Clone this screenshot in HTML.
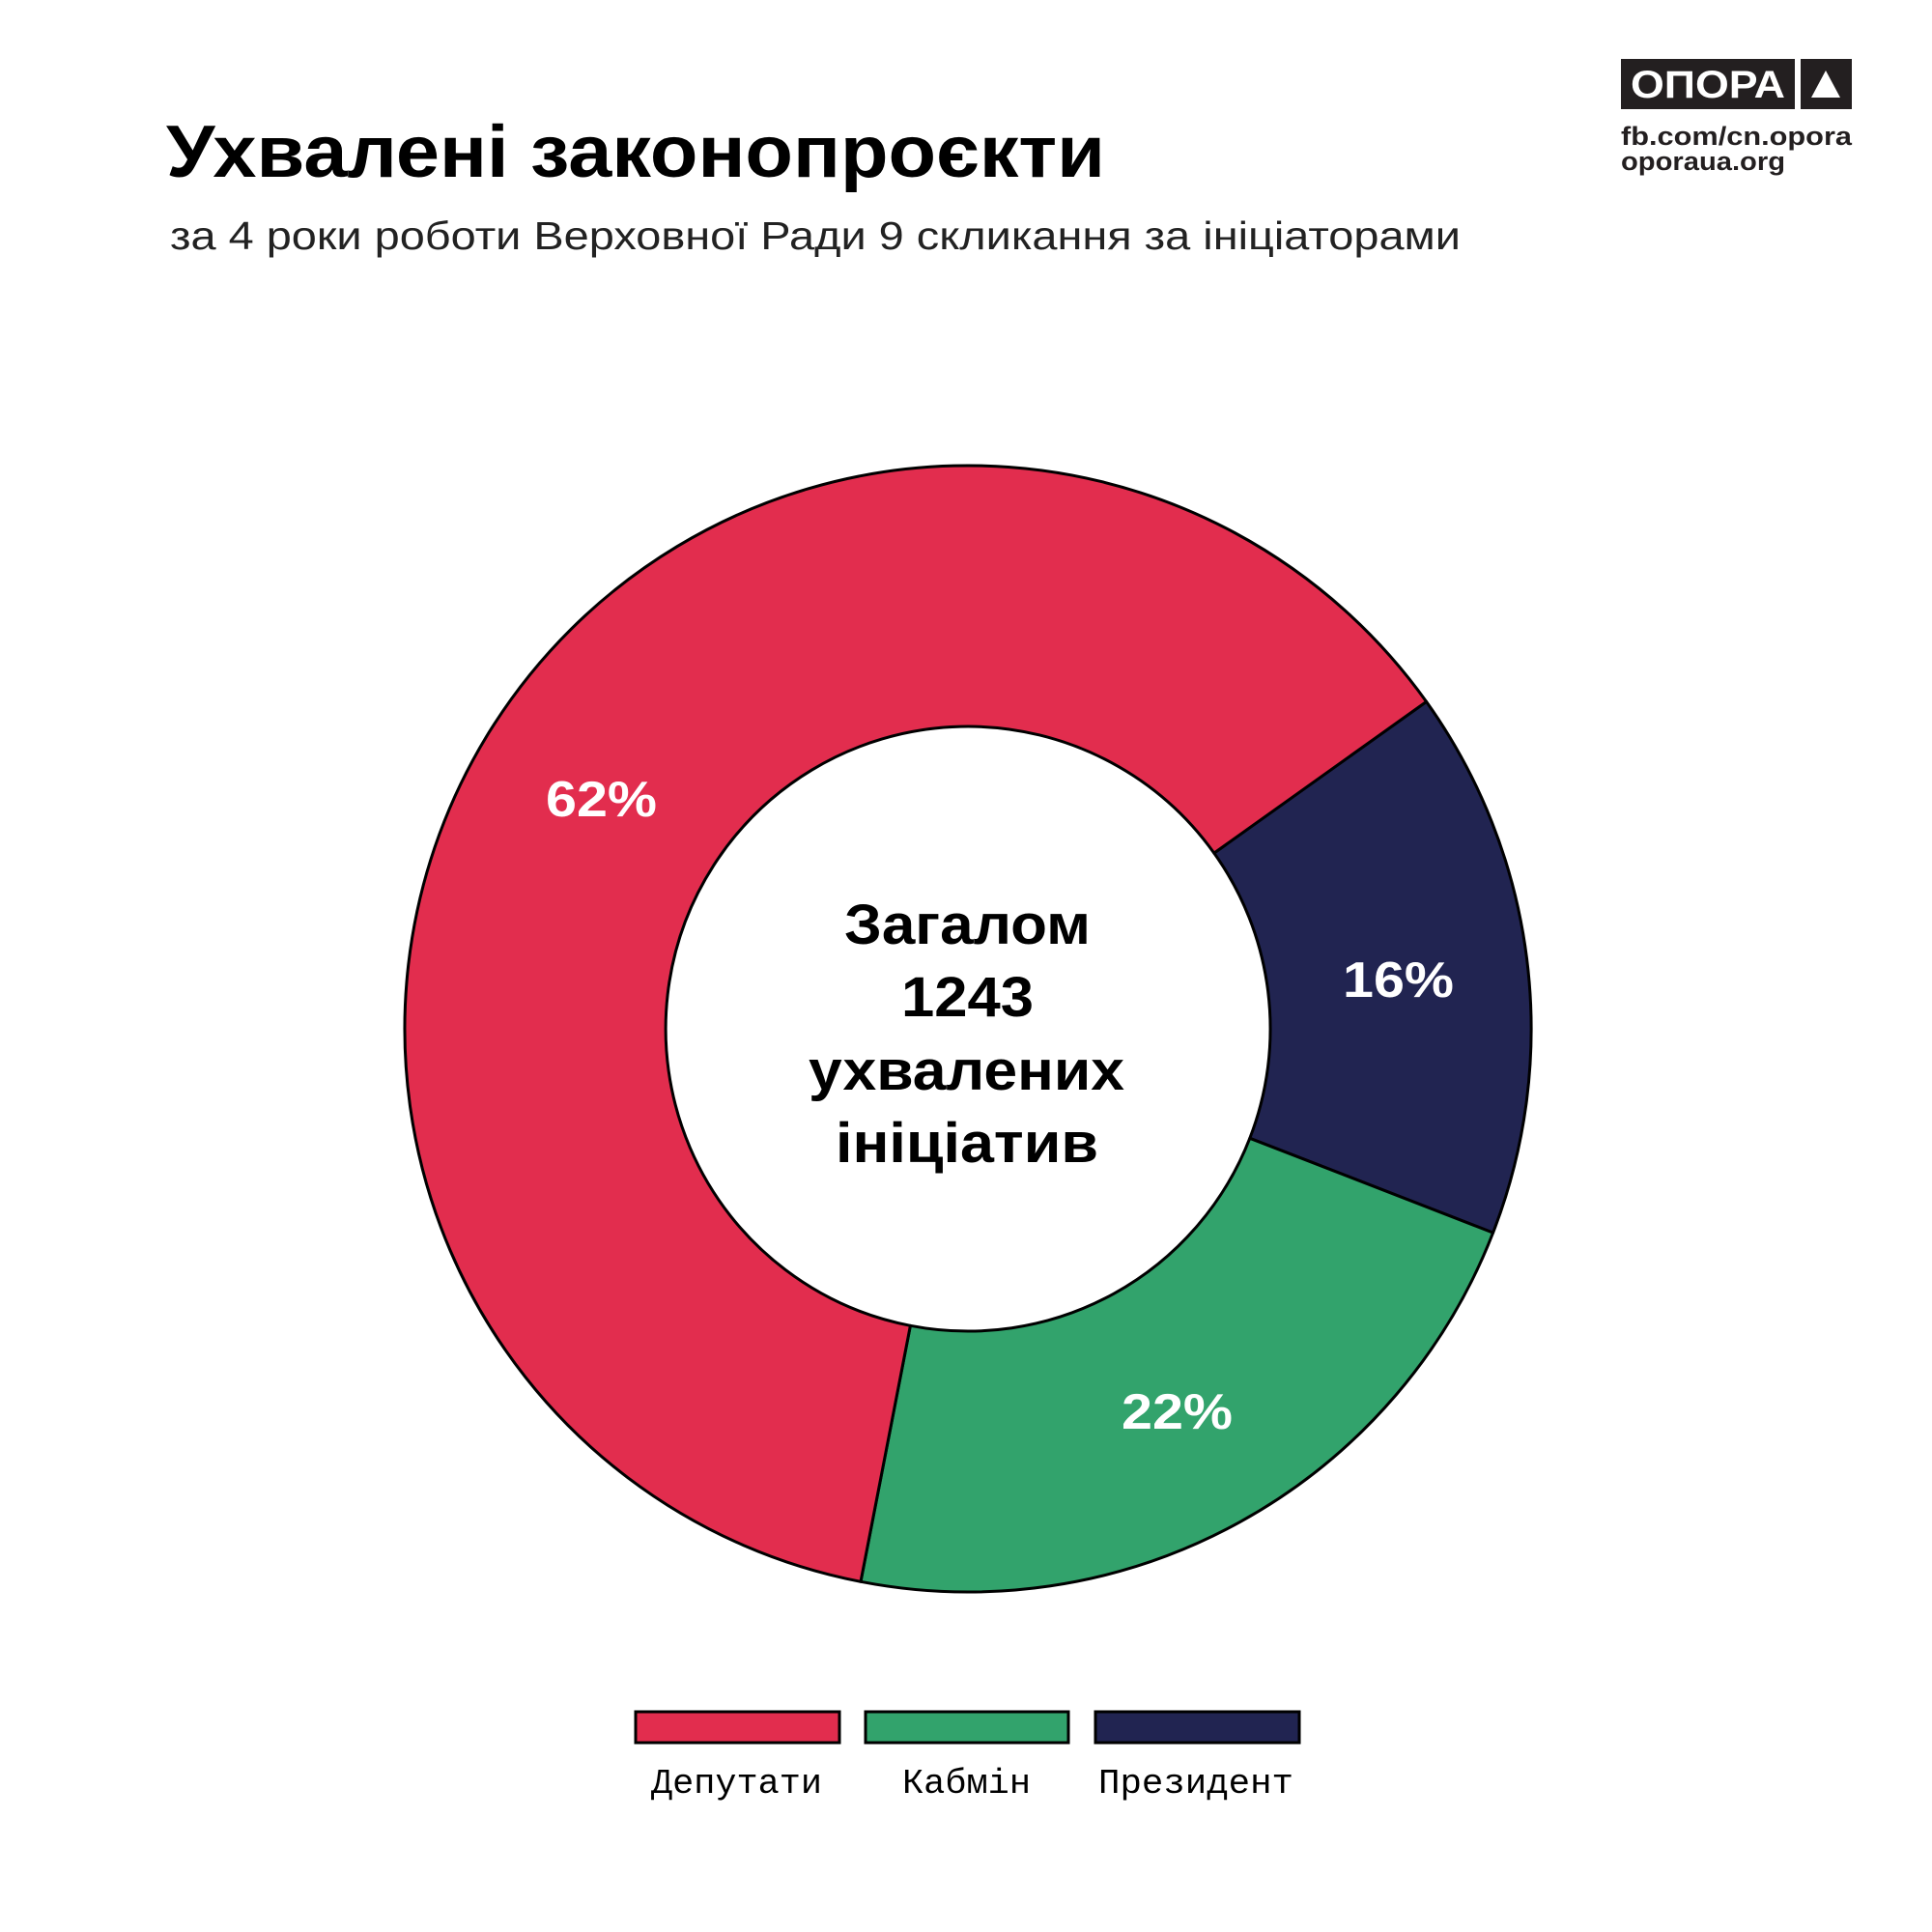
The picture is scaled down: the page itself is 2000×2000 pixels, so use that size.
<!DOCTYPE html>
<html><head><meta charset="utf-8"><style>
html,body{margin:0;padding:0;background:#fff;}
svg{display:block;}
</style></head><body>
<svg width="2000" height="2000" viewBox="0 0 2000 2000" xmlns="http://www.w3.org/2000/svg">
<rect width="2000" height="2000" fill="#fff"/>
<text x="172" y="183" font-family="Liberation Sans, sans-serif" font-weight="bold" font-size="76" fill="#000" textLength="972" lengthAdjust="spacingAndGlyphs">Ухвалені законопроєкти</text>
<text x="176" y="258" font-family="Liberation Sans, sans-serif" font-size="41" fill="#222" textLength="1336" lengthAdjust="spacingAndGlyphs">за 4 роки роботи Верховної Ради 9 скликання за ініціаторами</text>
<!-- logo -->
<rect x="1678" y="61" width="180" height="52" fill="#231f20"/>
<text x="1768" y="101" text-anchor="middle" font-family="Liberation Sans, sans-serif" font-weight="bold" font-size="40" fill="#fff" textLength="160" lengthAdjust="spacingAndGlyphs">ОПОРА</text>
<rect x="1864" y="61" width="53" height="52" fill="#231f20"/>
<polygon points="1890,73 1905,101 1875,101" fill="#fff"/>
<text x="1678" y="150" font-family="Liberation Sans, sans-serif" font-weight="bold" font-size="27" fill="#231f20" textLength="239" lengthAdjust="spacingAndGlyphs">fb.com/cn.opora</text>
<text x="1678" y="176" font-family="Liberation Sans, sans-serif" font-weight="bold" font-size="27" fill="#231f20" textLength="170" lengthAdjust="spacingAndGlyphs">oporaua.org</text>
<g stroke="#000" stroke-width="3" stroke-linejoin="round">
<path d="M1476.6,726.4 A583,583 0 0 1 1545.6,1276.1 L1293.8,1178.3 A313,313 0 0 0 1256.8,883.1 Z" fill="#212451"/>
<path d="M1545.6,1276.1 A583,583 0 0 1 891.0,1637.3 L942.4,1372.3 A313,313 0 0 0 1293.8,1178.3 Z" fill="#32a36c"/>
<path d="M891.0,1637.3 A583,583 0 1 1 1476.6,726.4 L1256.8,883.1 A313,313 0 1 0 942.4,1372.3 Z" fill="#e22d4e"/>
</g>
<g font-family="Liberation Sans, sans-serif" font-weight="bold" font-size="52" fill="#fff">
<text x="565" y="845" textLength="115" lengthAdjust="spacingAndGlyphs">62%</text>
<text x="1390" y="1032" textLength="115" lengthAdjust="spacingAndGlyphs">16%</text>
<text x="1161" y="1479" textLength="115" lengthAdjust="spacingAndGlyphs">22%</text>
</g>
<g font-family="Liberation Sans, sans-serif" font-weight="bold" font-size="58" fill="#000">
<text x="874" y="977" textLength="255" lengthAdjust="spacingAndGlyphs">Загалом</text>
<text x="933" y="1052" textLength="137" lengthAdjust="spacingAndGlyphs">1243</text>
<text x="837" y="1128" textLength="327" lengthAdjust="spacingAndGlyphs">ухвалених</text>
<text x="865" y="1203" textLength="272" lengthAdjust="spacingAndGlyphs">ініціатив</text>
</g>
<g stroke="#000" stroke-width="3">
<rect x="658" y="1772" width="211" height="32" fill="#e22d4e"/>
<rect x="896" y="1772" width="210" height="32" fill="#32a36c"/>
<rect x="1134" y="1772" width="211" height="32" fill="#212451"/>
</g>
<g font-family="Liberation Mono, monospace" font-size="36" fill="#000">
<text x="674" y="1856" textLength="177" lengthAdjust="spacingAndGlyphs">Депутати</text>
<text x="934" y="1856" textLength="133" lengthAdjust="spacingAndGlyphs">Кабмін</text>
<text x="1137" y="1856" textLength="202" lengthAdjust="spacingAndGlyphs">Президент</text>
</g>
</svg>
</body></html>
